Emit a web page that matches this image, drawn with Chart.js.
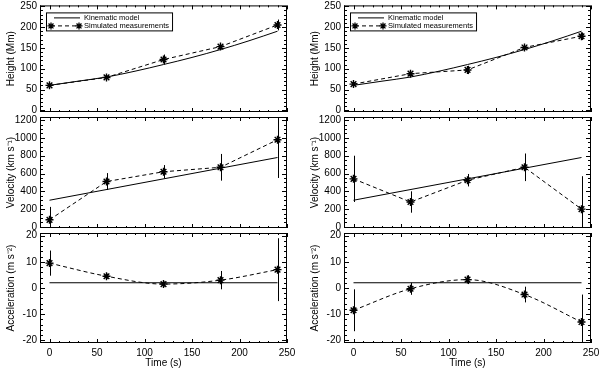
<!DOCTYPE html>
<html>
<head>
<meta charset="utf-8">
<script src="https://cdn.jsdelivr.net/npm/chart.js@4/dist/chart.umd.min.js"></script>
<style>
  body { margin: 0; background: #fff; }
  #wrap { position: relative; width: 600px; height: 369px; overflow: hidden; }
  #wrap canvas { position: absolute; top: 0; }
</style>
</head>
<body>
<div id="wrap"></div>
<script>
// temps des mesures (s)
const times = [0, 60, 120, 180, 240];

// modele cinematique
const modelTimes = [0, 30, 60, 90, 120, 150, 180, 210, 240];
const heightModel = [60, 70, 80, 94, 110, 127, 146, 167, 190];
const lineTimes = [0, 240];
const velocityModel = [300, 780];
const accelModel = [2, 2];

// mesures simulees - colonne gauche
const heightMeasA = [60, 79, 122, 153, 205];
const heightErrA = [2, 2.5, 12, 4, 13];
const velocityMeasA = [80, 510, 620, 670, 980];
const velocityErrA = [145, 95, 75, 150, 430];
const accelMeasA = [9.5, 4.5, 1.5, 3, 7];
const accelErrA = [4.8, 1, 1, 3.5, 12];

// mesures simulees - colonne droite
const heightMeasB = [63, 88, 97, 151, 178];
const heightErrB = [2, 3.5, 10, 3, 9];
const velocityMeasB = [540, 280, 525, 670, 200];
const velocityErrB = [260, 120, 70, 155, 370];
const accelMeasB = [-8.5, -0.3, 3.2, -2.5, -13];
const accelErrB = [8, 2.3, 1.7, 3, 10.5];

// graduations
const xTicks = [0, 50, 100, 150, 200, 250];
const heightTicks = [0, 50, 100, 150, 200, 250];
const velocityTicks = [0, 200, 400, 600, 800, 1000, 1200];
const accelTicks = [-20, -10, 0, 10, 20];

const FONT = 'Liberation Sans, Arial, sans-serif';

// géométrie des colonnes / lignes
const cols = [
  { left: 0, yWidth: 40, padRight: 13, titlePad: 5 },
  { left: 300, yWidth: 44, padRight: 9, titlePad: 9 }
];
const rows = [
  { top: 4, bottom: 112, min: -4, max: 252, ticks: heightTicks, minor: 10, title: 'Height (Mm)', model: [modelTimes, heightModel], legend: true },
  { top: 117, bottom: 228, min: -12, max: 1235, ticks: velocityTicks, minor: 50, title: 'Velocity (km s\u207B\u00B9)', model: [lineTimes, velocityModel] },
  { top: 233, bottom: 343, min: -21, max: 21, ticks: accelTicks, minor: 2, title: 'Acceleration (m s\u207B\u00B2)', model: [lineTimes, accelModel], xAxis: true, smooth: true }
];
const measures = [
  [[heightMeasA, heightErrA], [velocityMeasA, velocityErrA], [accelMeasA, accelErrA]],
  [[heightMeasB, heightErrB], [velocityMeasB, velocityErrB], [accelMeasB, accelErrB]]
];

function toPoints(xs, ys) {
  return xs.map((x, i) => ({ x: x, y: ys[i] }));
}

function drawStar(ctx, x, y, r) {
  ctx.beginPath();
  ctx.moveTo(x - r, y); ctx.lineTo(x + r, y);
  ctx.moveTo(x, y - r); ctx.lineTo(x, y + r);
  const d = r * 0.7071;
  ctx.moveTo(x - d, y - d); ctx.lineTo(x + d, y + d);
  ctx.moveTo(x - d, y + d); ctx.lineTo(x + d, y - d);
  ctx.stroke();
}

// barres d'erreur
const errorBars = {
  id: 'errorBars',
  beforeDatasetsDraw(chart) {
    const { ctx, chartArea: a, scales: { x, y } } = chart;
    const ds = chart.data.datasets[1];
    ctx.save();
    ctx.beginPath();
    ctx.rect(a.left, a.top, a.right - a.left, a.bottom - a.top);
    ctx.clip();
    ctx.strokeStyle = '#000';
    ctx.lineWidth = 1;
    ctx.beginPath();
    ds.data.forEach((p, i) => {
      const px = Math.round(x.getPixelForValue(p.x)) + 0.5;
      ctx.moveTo(px, y.getPixelForValue(p.y - ds.errors[i]));
      ctx.lineTo(px, y.getPixelForValue(p.y + ds.errors[i]));
    });
    ctx.stroke();
    ctx.restore();
  }
};

// cadre avec graduations majeures/mineures vers l'intérieur
const frame = {
  id: 'frame',
  afterDraw(chart) {
    const { ctx, chartArea: a, scales: { x, y } } = chart;
    const row = chart.canvas.$row;
    ctx.save();
    ctx.strokeStyle = '#000';
    ctx.lineWidth = 1;
    ctx.strokeRect(a.left + 0.5, a.top + 0.5, a.right - a.left - 1, a.bottom - a.top - 1);
    ctx.beginPath();
    for (let v = Math.ceil(x.min / 10) * 10; v <= x.max; v += 10) {
      const px = Math.round(x.getPixelForValue(v)) + 0.5;
      const len = v % 50 === 0 ? 4 : 2;
      ctx.moveTo(px, a.bottom); ctx.lineTo(px, a.bottom - len);
      ctx.moveTo(px, a.top); ctx.lineTo(px, a.top + len);
    }
    const step = row.minor;
    const major = row.ticks[1] - row.ticks[0];
    for (let v = Math.ceil(y.min / step) * step; v <= y.max; v += step) {
      const py = Math.round(y.getPixelForValue(v)) + 0.5;
      const isMajor = Math.abs(v / major - Math.round(v / major)) < 1e-6;
      const len = isMajor ? 5 : 3;
      ctx.moveTo(a.left, py); ctx.lineTo(a.left + len, py);
      ctx.moveTo(a.right, py); ctx.lineTo(a.right - len, py);
    }
    ctx.stroke();
    ctx.restore();
  }
};

// légende dans le panneau du haut
const legendBox = {
  id: 'legendBox',
  afterDraw(chart) {
    if (!chart.canvas.$row.legend) return;
    const { ctx, chartArea: a } = chart;
    const l = a.left + 6, t = a.top + 7;
    ctx.save();
    ctx.font = '7.5px ' + FONT;
    const w = 38 + Math.max(ctx.measureText('Kinematic model').width, ctx.measureText('Simulated measurements').width) + 3;
    ctx.fillStyle = '#fff';
    ctx.fillRect(l, t, w, 18);
    ctx.strokeStyle = '#000';
    ctx.lineWidth = 1;
    ctx.strokeRect(l + 0.5, t + 0.5, w, 18);
    ctx.beginPath();
    ctx.moveTo(l + 8, t + 5.5); ctx.lineTo(l + 34, t + 5.5);
    ctx.stroke();
    ctx.setLineDash([4, 3]);
    ctx.beginPath();
    ctx.moveTo(l + 5, t + 13.5); ctx.lineTo(l + 33, t + 13.5);
    ctx.stroke();
    ctx.setLineDash([]);
    ctx.lineWidth = 1.3;
    drawStar(ctx, l + 5, t + 13.5, 3.5);
    drawStar(ctx, l + 33, t + 13.5, 3.5);
    ctx.fillStyle = '#000';
    ctx.textBaseline = 'middle';
    ctx.fillText('Kinematic model', l + 38, t + 5.5);
    ctx.fillText('Simulated measurements', l + 38, t + 13.5);
    ctx.restore();
  }
};

const wrap = document.getElementById('wrap');

cols.forEach((col, ci) => {
  rows.forEach((row, ri) => {
    const canvas = document.createElement('canvas');
    canvas.width = 300;
    canvas.height = 369;
    canvas.style.left = col.left + 'px';
    canvas.$row = row;
    wrap.appendChild(canvas);
    const meas = measures[ci][ri];

    new Chart(canvas.getContext('2d'), {
      type: 'line',
      data: {
        datasets: [{
          label: 'Kinematic model',
          data: toPoints(row.model[0], row.model[1]),
          borderColor: '#000',
          borderWidth: 1,
          pointRadius: 0,
          cubicInterpolationMode: 'monotone'
        }, {
          label: 'Simulated measurements',
          data: toPoints(times, meas[0]),
          errors: meas[1],
          borderColor: '#000',
          backgroundColor: '#000',
          borderWidth: 1,
          borderDash: [4, 3],
          pointStyle: 'star',
          pointRadius: 4,
          pointBorderWidth: 1.4,
          cubicInterpolationMode: row.smooth ? 'monotone' : 'default',
          tension: 0
        }]
      },
      options: {
        responsive: false,
        animation: false,
        devicePixelRatio: 1,
        layout: {
          padding: { top: row.top, bottom: row.xAxis ? 0 : 369 - row.bottom, left: 0, right: col.padRight }
        },
        plugins: { legend: { display: false }, tooltip: { enabled: false } },
        scales: {
          x: {
            type: 'linear',
            display: !!row.xAxis,
            min: -10,
            max: 250,
            afterBuildTicks: s => { s.ticks = xTicks.map(v => ({ value: v })); },
            afterFit: s => {
              if (!row.xAxis) return;
              s.height = 26; s.paddingLeft = 0; s.paddingRight = 0;
            },
            grid: { display: false, drawTicks: false },
            border: { display: false },
            ticks: { color: '#000', font: { family: FONT, size: 10 }, padding: 4, maxRotation: 0, autoSkip: false, callback: v => String(v) },
            title: { display: true, text: 'Time (s)', color: '#000', font: { family: FONT, size: 10 }, padding: 0 }
          },
          y: {
            type: 'linear',
            min: row.min,
            max: row.max,
            afterBuildTicks: s => { s.ticks = row.ticks.map(v => ({ value: v })); },
            afterFit: s => { s.width = col.yWidth; s.paddingTop = 0; s.paddingBottom = 0; },
            grid: { display: false, drawTicks: false },
            border: { display: false },
            ticks: { color: '#000', font: { family: FONT, size: 10 }, padding: 3, autoSkip: false, callback: v => String(v) },
            title: { display: true, text: row.title, color: '#000', font: { family: FONT, size: 10 }, padding: { top: col.titlePad, bottom: 0 } }
          }
        }
      },
      plugins: [errorBars, frame, legendBox]
    });
  });
});
</script>
</body>
</html>
